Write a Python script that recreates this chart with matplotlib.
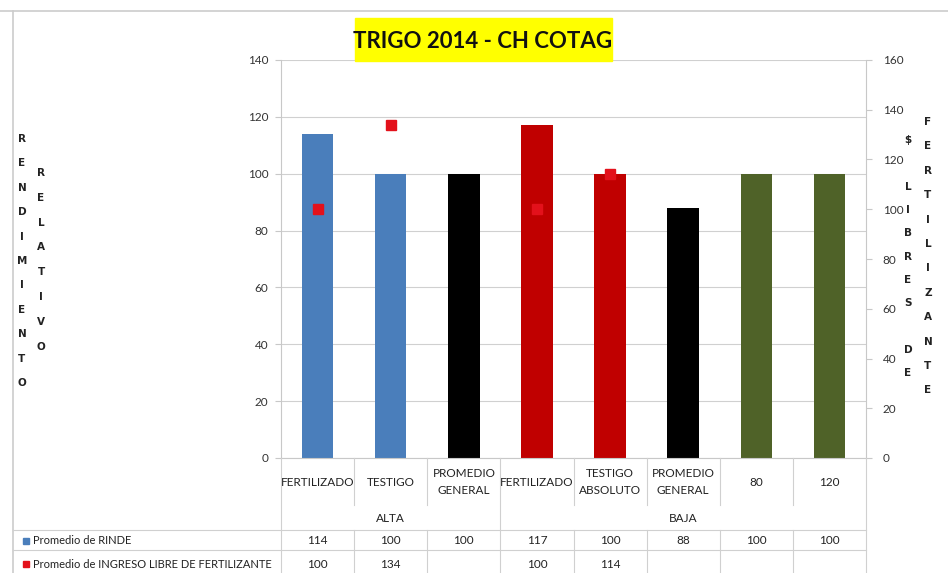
import matplotlib
matplotlib.use("Agg")
import matplotlib.pyplot as plt
from matplotlib.lines import Line2D
from matplotlib.patches import Rectangle
import numpy as np

categories = ["FERTILIZADO", "TESTIGO", "PROMEDIO\nGENERAL", "FERTILIZADO",
              "TESTIGO\nABSOLUTO", "PROMEDIO\nGENERAL", "80", "120"]
groups = ["ALTA", "BAJA"]
group_sizes = [3, 5]
rinde = [114, 100, 100, 117, 100, 88, 100, 100]
ingreso = [100, 134, None, 100, 114, None, None, None]
bar_colors = ["#4a7ebb", "#4a7ebb", "#000000", "#c00000", "#c00000", "#000000", "#4f6228", "#4f6228"]
series_names = ["Promedio de RINDE", "Promedio de INGRESO LIBRE DE FERTILIZANTE"]
title = "TRIGO 2014 - CH COTAG"
left_label = ["RENDIMIENTO", "RELATIVO"]
right_label = ["$ LIBRES DE", "FERTILIZANTE"]

FONT = ["Lato", "DejaVu Sans"]
plt.rcParams['font.family'] = FONT

W, H = 948, 573
fig = plt.figure(figsize=(W/100, H/100), dpi=100)

def fx(px):
    return px / W

def fy(py):
    return 1 - py / H

ax_l, ax_r, ax_t, ax_b = 281, 866, 60, 458
ax = fig.add_axes([fx(ax_l), fy(ax_b), fx(ax_r - ax_l), fy(ax_t) - fy(ax_b)])
n = len(categories)
x = np.arange(n)
ax.bar(x, rinde, width=0.43, color=bar_colors, zorder=2)
ax.set_xlim(-0.5, n - 0.5)
ax.set_ylim(0, 140)
ax.set_yticks(range(0, 141, 20))
ax.grid(axis='y', color='#d0d0d0', linewidth=0.8, zorder=0)
ax.set_xticks([])
for s in ['top', 'right']:
    ax.spines[s].set_visible(False)
ax.spines['left'].set_color('#c8c8c8')
ax.spines['bottom'].set_color('#c8c8c8')
ax.tick_params(axis='y', labelsize=8.5, colors='#c8c8c8', labelcolor='#333333', length=4, pad=5)

ax2 = ax.twinx()
ax2.set_ylim(0, 160)
ax2.set_yticks(range(0, 161, 20))
ix = [i for i, v in enumerate(ingreso) if v is not None]
iv = [ingreso[i] for i in ix]
ax2.plot(ix, iv, linestyle='none', marker='s', markersize=7, color='#e3111b', zorder=3)
for s in ['top', 'left', 'bottom']:
    ax2.spines[s].set_visible(False)
ax2.spines['right'].set_color('#c8c8c8')
ax2.tick_params(axis='y', labelsize=8.5, colors='#c8c8c8', labelcolor='#333333', length=4, pad=8)

# frame lines
line_c = '#d0d0d0'
fig.add_artist(Line2D([fx(0), fx(948)], [fy(11), fy(11)], color='#cccccc', lw=1.2))
fig.add_artist(Line2D([fx(13), fx(13)], [fy(11), fy(573)], color='#cccccc', lw=1.2))

# category labels
cw = (ax_r - ax_l) / n
for i, c in enumerate(categories):
    cx = ax_l + cw * (i + 0.5)
    fig.text(fx(cx), fy(482), c, ha='center', va='center', fontsize=8.5, color='#222222', linespacing=1.6)
# vertical separators in label area
bounds = np.cumsum([0] + group_sizes)
for i in range(n + 1):
    px = ax_l + cw * i
    if i in bounds:
        y2 = 573
    else:
        y2 = 505
    fig.add_artist(Line2D([fx(px), fx(px)], [fy(ax_b), fy(y2)], color=line_c, lw=0.8))
    if i not in bounds:
        fig.add_artist(Line2D([fx(px), fx(px)], [fy(530), fy(573)], color=line_c, lw=0.8))
# group labels
for g, (a, b) in enumerate(zip(bounds[:-1], bounds[1:])):
    cx = ax_l + cw * (a + b) / 2
    fig.text(fx(cx), fy(518), groups[g], ha='center', va='center', fontsize=8.5, color='#222222')

# table rows
for py in [530, 550]:
    fig.add_artist(Line2D([fx(13), fx(ax_r)], [fy(py), fy(py)], color=line_c, lw=0.8))
row_y = [541, 564]
key_colors = ['#4a7ebb', '#e3111b']
for r, (name, vals) in enumerate(zip(series_names, [rinde, ingreso])):
    fig.add_artist(Rectangle((fx(23), fy(row_y[r] + 3)), fx(6), fy(0) - fy(6), color=key_colors[r]))
    fig.text(fx(33), fy(row_y[r]), name, ha='left', va='center', fontsize=8, color='#222222')
    for i, v in enumerate(vals):
        if v is not None:
            cx = ax_l + cw * (i + 0.5)
            fig.text(fx(cx), fy(row_y[r]), str(v), ha='center', va='center', fontsize=8.5, color='#222222')

# title
fig.add_artist(Rectangle((fx(355), fy(61)), fx(612 - 355), fy(18) - fy(61), color='#ffff00'))
fig.text(fx(483), fy(41), title, ha='center', va='center', fontsize=16, fontweight='bold',
         color='#111111')

# vertical stacked axis labels
def stack(word, px, py0, step):
    for k, ch in enumerate(word):
        if ch == ' ':
            continue
        fig.text(fx(px), fy(py0 + k * step), ch, ha='center', va='center', fontsize=7.5,
                 fontweight='bold', color='#222222', family=["DejaVu Sans"])

stack(left_label[0], 22, 139, 24.4)
stack(left_label[1], 41, 173, 24.8)
stack(right_label[0], 908, 140, 23.3)
stack(right_label[1], 928, 122, 24.4)

fig.savefig("out.png", dpi=100, facecolor='white')
